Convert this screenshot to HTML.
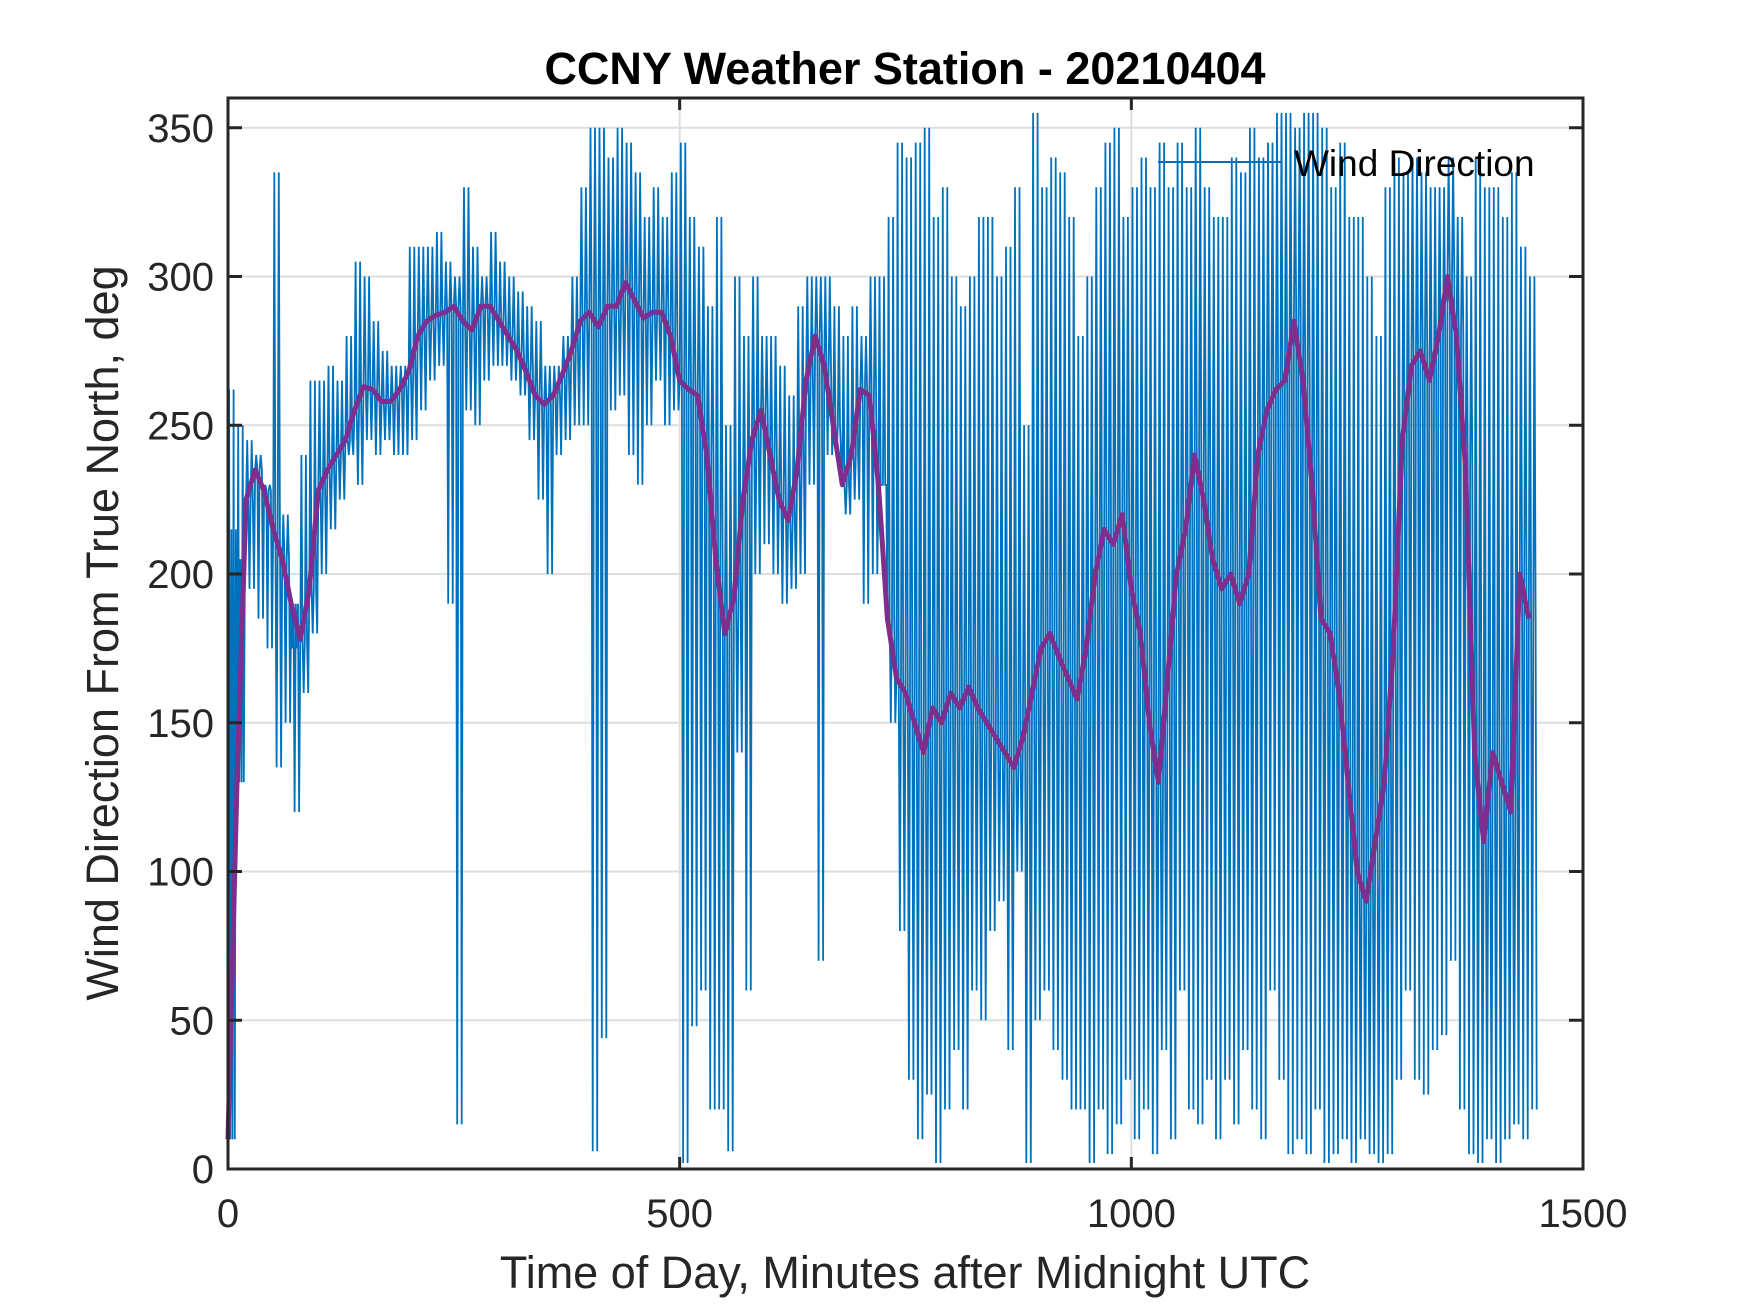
<!DOCTYPE html>
<html><head><meta charset="utf-8"><style>
body{margin:0;background:#fff;}
svg{display:block;font-family:"Liberation Sans",Arial,sans-serif;}
</style></head><body>
<svg id="chart" width="1750" height="1313" viewBox="0 0 1750 1313" xmlns="http://www.w3.org/2000/svg">
<rect width="1750" height="1313" fill="#fff"/>
<g id="grid"></g>
<g id="series"></g>
<g id="axes"></g>
<text x="905" y="84" text-anchor="middle" font-size="45" font-weight="bold" fill="#000">CCNY Weather Station - 20210404</text>
<text x="905" y="1288" text-anchor="middle" font-size="45" fill="#262626">Time of Day, Minutes after Midnight UTC</text>
<text transform="translate(118,633) rotate(-90)" text-anchor="middle" font-size="45" fill="#262626">Wind Direction From True North, deg</text>
<g>
<line x1="1158" y1="162" x2="1281" y2="162" stroke="#0072BD" stroke-width="2"/>
<text x="1294" y="176" font-size="37" fill="#000">Wind Direction</text>
</g>
</svg>
<script>
const xTicks=[0,500,1000,1500];
const yTicks=[0,50,100,150,200,250,300,350];
const binMinutes=10;
const avgSeries=[10,130,225,235,228,215,205,190,178,195,228,235,240,245,255,263,262,258,258,262,268,280,285,287,288,290,285,282,290,290,285,280,275,268,260,257,260,267,275,285,288,283,290,290,298,292,286,288,288,280,265,262,260,240,205,180,192,225,245,255,240,225,218,235,265,280,270,250,230,240,262,260,230,185,165,160,150,140,155,150,160,155,162,155,150,145,140,135,145,160,175,180,172,165,158,175,200,215,210,220,195,180,150,130,165,200,215,240,225,205,195,200,190,200,240,255,262,265,285,265,230,185,180,160,130,100,90,110,130,175,245,270,275,265,280,300,280,235,140,110,140,130,120,200,185];
const hiSeries=[262,250,245,240,230,335,220,175,240,265,265,270,265,280,305,300,285,275,270,270,310,310,310,315,305,300,330,310,300,315,305,300,295,290,285,270,270,280,300,330,350,350,340,350,345,335,320,330,320,335,345,320,310,290,320,250,300,280,300,280,280,270,260,290,300,300,300,290,280,290,280,300,300,320,345,340,345,350,320,330,300,290,300,320,320,300,310,330,250,355,330,340,335,320,280,300,330,345,350,320,330,340,330,345,330,345,330,350,330,320,320,340,335,350,340,345,355,355,350,355,355,350,330,345,320,320,300,280,330,340,335,340,335,330,330,340,320,300,340,330,330,320,335,310,300];
const loSeries=[215,205,195,185,175,135,150,120,160,180,200,215,225,240,230,245,240,245,240,240,245,255,265,270,190,15,255,250,265,270,270,265,260,245,225,200,240,245,250,250,6,44,255,260,240,230,250,265,250,255,2,48,60,20,20,6,140,60,200,210,200,190,195,200,230,70,240,240,220,225,190,200,230,150,80,30,10,25,2,20,40,20,60,50,80,90,40,100,2,50,60,40,30,20,20,2,20,5,15,30,10,20,5,40,10,60,20,15,30,10,30,15,40,20,10,60,30,5,10,5,20,2,5,10,2,10,5,2,5,30,60,30,25,40,45,70,20,5,2,10,2,10,15,10,20];

const X0=228,X1=1583,Y0=1169,Y1=98,XMAX=1500,YMAX=360;
function xs(v){return X0+(X1-X0)*v/XMAX;}
function ys(v){return Y0-(Y0-Y1)*v/YMAX;}
const NS='http://www.w3.org/2000/svg';
function mk(tag,attrs,parent){const e=document.createElementNS(NS,tag);for(const k in attrs)e.setAttribute(k,attrs[k]);parent.appendChild(e);return e;}
const grid=document.getElementById('grid'),axes=document.getElementById('axes'),series=document.getElementById('series');
xTicks.forEach(t=>{
  if(t>0&&t<XMAX){const g=mk('line',{x1:xs(t),x2:xs(t),y1:Y1,y2:Y0,stroke:'#dedede','stroke-width':2},grid);
  
  }
  [[Y0,Y0-12],[Y1,Y1+12]].forEach(p=>{const tk=mk('line',{x1:xs(t),x2:xs(t),y1:p[0],y2:p[1],stroke:'#262626','stroke-width':3},axes);
  
  });
  const l=mk('text',{x:xs(t),y:Y0+58,'text-anchor':'middle','font-size':40,fill:'#262626'},axes);l.textContent=t;
  
  
});
yTicks.forEach(t=>{
  if(t>0){const g=mk('line',{x1:X0,x2:X1,y1:ys(t),y2:ys(t),stroke:'#dedede','stroke-width':2},grid);
  
  }
  [[X0,X0+14],[X1,X1-14]].forEach(p=>{const tk=mk('line',{x1:p[0],x2:p[1],y1:ys(t),y2:ys(t),stroke:'#262626','stroke-width':3},axes);
  
  });
  const l=mk('text',{x:X0-14,y:ys(t)+14,'text-anchor':'end','font-size':40,fill:'#262626'},axes);l.textContent=t;
  
  
});
const box=mk('rect',{x:X0,y:Y1,width:X1-X0,height:Y0-Y1,fill:'none',stroke:'#262626','stroke-width':3},axes);



let pts=[];
for(let i=0;i<avgSeries.length;i++){
  const t=i*binMinutes;
  pts.push([t,avgSeries[i]],[t+1.25,hiSeries[i]],[t+2.5,avgSeries[i]],[t+3.75,loSeries[i]],
           [t+5,avgSeries[i]],[t+6.25,hiSeries[i]],[t+7.5,avgSeries[i]],[t+8.75,loSeries[i]]);
}
const blue=mk('polyline',{points:pts.map(p=>xs(p[0]).toFixed(1)+','+ys(p[1]).toFixed(1)).join(' '),fill:'none',stroke:'#0072BD','stroke-width':1.8,'stroke-linejoin':'miter'},series);


const purple=mk('polyline',{points:avgSeries.map((v,i)=>xs(i*binMinutes).toFixed(1)+','+ys(v).toFixed(1)).join(' '),fill:'none',stroke:'#7E2F8E','stroke-width':5,'stroke-linejoin':'round'},series);


</script>
</body></html>
